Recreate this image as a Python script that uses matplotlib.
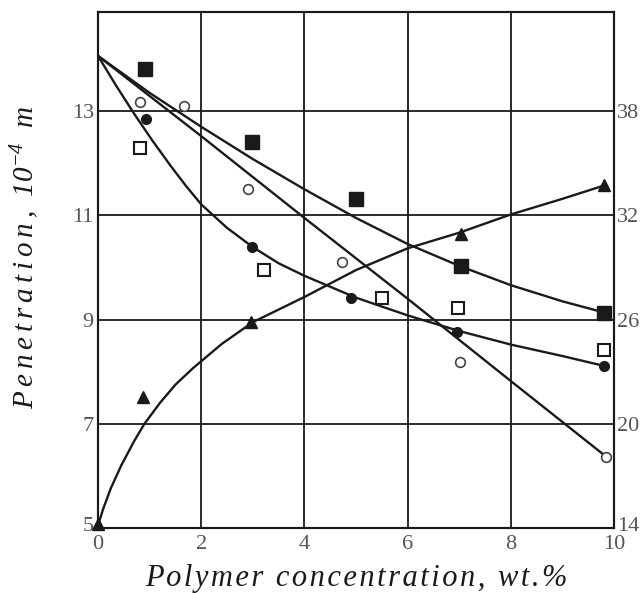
import matplotlib
matplotlib.use("Agg")
import matplotlib.pyplot as plt
from matplotlib.transforms import ScaledTranslation

plt.rcParams["font.family"] = ["Liberation Serif", "DejaVu Serif"]
plt.rcParams["mathtext.fontset"] = "custom"
plt.rcParams["mathtext.rm"] = "Liberation Serif:italic"
plt.rcParams["mathtext.it"] = "Liberation Serif:italic"

# ---- data (left axis units unless noted) ----
sq_fill_x = [0.91, 2.98, 5.00, 7.03, 9.81]
sq_fill_y = [13.81, 12.41, 11.31, 10.03, 9.13]
sq_open_x = [0.81, 3.22, 5.50, 6.98, 9.80]
sq_open_y = [12.29, 9.95, 9.41, 9.22, 8.42]
ci_fill_x = [0.93, 2.98, 4.90, 6.96, 9.80]
ci_fill_y = [12.85, 10.39, 9.41, 8.76, 8.11]
ci_open_x = [0.81, 1.67, 2.90, 4.73, 7.02, 9.84]
ci_open_y = [13.18, 13.10, 11.50, 10.10, 8.19, 6.36]
# triangles belong to the right axis
tri_x = [0.00, 0.87, 2.97, 7.03, 9.81]
tri_y = [14.24, 21.53, 25.85, 30.92, 33.74]

# drawn curves
curve_a_x = [0, 1, 2, 3, 4, 5, 6, 7, 8, 9, 9.83]
curve_a_y = [14.06, 13.35, 12.70, 12.08, 11.50, 10.95, 10.45, 10.03, 9.66, 9.35, 9.13]
curve_b_x = [0, 2, 4, 6, 8, 9.86]
curve_b_y = [14.06, 12.52, 10.95, 9.40, 7.82, 6.36]
curve_c_x = [0, 0.35, 0.7, 1.05, 1.4, 1.7, 2.0, 2.5, 3.0, 3.5, 4.0, 5.0, 6.0, 7.0, 8.0, 9.0, 9.81]
curve_c_y = [14.06, 13.49, 12.95, 12.44, 11.96, 11.57, 11.21, 10.76, 10.39, 10.08,
             9.84, 9.42, 9.08, 8.78, 8.52, 8.30, 8.11]
curve_d_x = [0, 0.1, 0.25, 0.45, 0.7, 0.9, 1.2, 1.5, 1.84, 2.4, 3.0, 4.0, 5.0, 6.0,
             7.0, 8.0, 9.0, 9.83]
curve_d_y = [14.15, 15.1, 16.3, 17.6, 19.0, 20.0, 21.2, 22.25, 23.2, 24.6, 25.85, 27.3,
             28.85, 30.1, 31.0, 32.05, 32.95, 33.74]

left_ticks = [5, 7, 9, 11, 13]
right_ticks = [14, 20, 26, 32, 38]
x_ticks = [0, 2, 4, 6, 8, 10]


def spaced(s, sp):
    return sp.join(s)


fig = plt.figure(figsize=(6.41, 5.93), dpi=100)
ax = fig.add_axes([0.1529, 0.1096, 0.805, 0.870])
ax2 = ax.twinx()

ink = "#1a1a1a"
lab = "#555555"

ax.set_xlim(0, 10)
ax.set_ylim(5, 14.9)
ax2.set_ylim(14, 14 + 3 * 9.9)

for xv in x_ticks[1:-1]:
    ax.axvline(xv, color=ink, lw=1.3, zorder=1)
for yv in left_ticks[1:]:
    ax.axhline(yv, color=ink, lw=1.3, zorder=1)

lw = 1.7
ax.plot(curve_a_x, curve_a_y, "-", color=ink, lw=lw, zorder=2)
ax.plot(curve_b_x, curve_b_y, "-", color=ink, lw=lw, zorder=2)
ax.plot(curve_c_x, curve_c_y, "-", color=ink, lw=lw, zorder=2)
ax2.plot(curve_d_x, curve_d_y, "-", color=ink, lw=lw, zorder=2)

ax.plot(sq_fill_x, sq_fill_y, "s", ms=10, mfc=ink, mec=ink, zorder=3, clip_on=False)
ax.plot(sq_open_x, sq_open_y, "s", ms=9, mfc="white", mec=ink, mew=1.5, zorder=3, clip_on=False)
ax.plot(ci_fill_x, ci_fill_y, "o", ms=7, mfc=ink, mec=ink, zorder=3, clip_on=False)
ax.plot(ci_open_x, ci_open_y, "o", ms=7, mfc="white", mec="#444444", mew=1.2, zorder=3, clip_on=False)
ax2.plot(tri_x, tri_y, "^", ms=8, mfc=ink, mec=ink, zorder=3, clip_on=False)

ax.set_xticks(x_ticks)
ax.set_yticks(left_ticks)
ax2.set_yticks(right_ticks)
ax.tick_params(axis="x", length=0, labelsize=16, labelcolor=lab, pad=5)
ax.tick_params(axis="y", length=0, labelsize=16, labelcolor=lab, pad=3)
ax2.tick_params(axis="y", length=0, labelsize=16, labelcolor=lab, pad=2)

# bottom labels of both y axes sit a little above the frame
up = ScaledTranslation(0, 3 / 72, fig.dpi_scale_trans)
for a in (ax, ax2):
    t = a.get_yticklabels()[0]
    t.set_transform(t.get_transform() + up)

for a in (ax, ax2):
    for s in a.spines.values():
        s.set_color(ink)
        s.set_linewidth(1.5)

ax.set_xlabel(spaced("Polymer concentration, wt.%", "\u200a"), fontsize=22,
              style="italic", color=ink, labelpad=7)
ax.set_ylabel(spaced("Penetration,", "\u2006") + "  " + r"$10^{-4}$" + "  m",
              fontsize=21, style="italic", color=ink)
ax.yaxis.set_label_coords(-0.11, 0.525)

fig.savefig("out.png", dpi=100)
